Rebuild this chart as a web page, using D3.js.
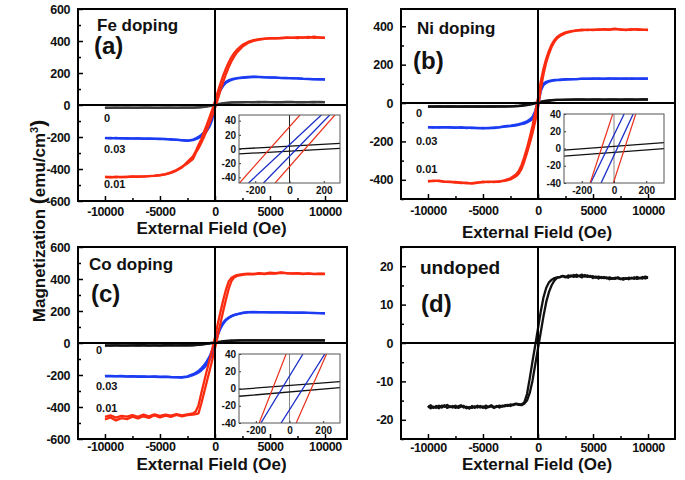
<!DOCTYPE html>
<html>
<head>
<meta charset="utf-8">
<script src="https://cdn.jsdelivr.net/npm/d3@7"></script>
<style>
  body { margin: 0; background: #fff; }
  svg text { font-family: "Liberation Sans", Arial, sans-serif; font-weight: bold; fill: #111; }
</style>
</head>
<body>
<svg id="chart" width="685" height="480"></svg>
<script>
// field grid (Oe) shared by panels a-c
const fieldH = [-10000,-9500,-9000,-8500,-8000,-7500,-7000,-6500,-6000,-5500,-5000,-4500,-4000,-3500,-3000,-2500,
  -2000,-1750,-1500,-1250,-1000,-750,-500,-250,0,250,500,750,1000,1250,1500,1750,
  2000,2500,3000,3500,4000,4500,5000,5500,6000,6500,7000,7500,8000,8500,9000,9500,10000];

// (a) Fe doping
const feRedDown = [-450,-452,-448,-451,-449,-447,-449,-446,-445,-443,-439,-434,-424,-410,-390,-355,
  -320,-290,-250,-215,-168,-124,-77,-29,23,81,135,185,229,267,299,325,
  346,376,394,405,411,415,418,416,420,422,419,424,421,426,420,423,421];
const feRedUp = [-449,-450,-452,-449,-450,-448,-447,-448,-444,-442,-438,-432,-421,-406,-386,-365,
  -338,-300,-271,-238,-200,-159,-115,-68,-20,35,92,145,194,237,274,304,
  329,365,388,401,409,413,416,418,417,420,421,418,423,420,427,421,419];
const feBlueDown = [-205,-208,-206,-209,-207,-210,-208,-211,-209,-212,-210,-213,-214,-216,-219,-222,
  -216,-209,-199,-187,-171,-150,-120,-66,14,72,106,129,145,155,161,165,
  168,172,175,177,176,174,173,171,170,168,168,166,164,163,162,161,160];
const feBlueUp = [-207,-206,-209,-207,-210,-208,-209,-210,-212,-211,-213,-212,-216,-218,-221,-224,
  -220,-214,-207,-197,-183,-164,-136,-92,-14,50,93,120,139,149,157,161,
  166,170,173,175,174,173,171,172,168,169,166,167,163,162,161,162,159];
const feBlackDown = [-17,-18,-17,-16,-17,-18,-17,-17,-16,-17,-18,-17,-17,-16,-17,-17,
  -16,-15,-14,-12,-10,-7,-4,-1,2,5,8,11,13,15,16,17,
  17,18,18,17,19,18,18,17,18,19,18,18,17,18,19,18,18];
const feBlackUp = [-18,-17,-17,-18,-16,-17,-18,-16,-17,-18,-17,-16,-17,-18,-17,-16,
  -17,-16,-15,-14,-12,-10,-7,-4,-2,2,5,8,11,13,15,16,
  17,17,18,18,17,19,18,18,17,18,19,17,18,18,17,19,18];

// (b) Ni doping
const niRedDown = [-406,-407,-404,-409,-412,-411,-417,-415,-420,-416,-410,-412,-409,-410,-402,-392,
  -372,-354,-324,-282,-234,-178,-120,-48,25,112,180,232,273,306,329,345,
  355,368,375,379,382,380,383,381,385,384,388,382,383,382,385,381,382];
const niRedUp = [-409,-404,-407,-411,-409,-414,-414,-419,-417,-413,-413,-409,-412,-408,-406,-398,
  -382,-368,-344,-306,-260,-210,-158,-95,-25,72,150,212,257,294,320,338,
  349,364,372,377,379,383,380,384,383,381,385,384,380,385,382,383,380];
const niBlueDown = [-125,-128,-126,-127,-125,-129,-126,-130,-128,-131,-130,-131,-128,-125,-121,-118,
  -113,-110,-106,-101,-95,-86,-72,-42,20,80,102,111,116,118,120,121,
  122,124,125,125,127,126,128,126,127,128,126,127,128,126,127,128,127];
const niBlueUp = [-127,-126,-128,-126,-128,-127,-129,-128,-130,-129,-132,-129,-130,-127,-123,-120,
  -117,-114,-110,-107,-101,-94,-84,-68,-20,62,94,105,112,116,118,119,
  120,122,123,125,126,127,126,128,126,127,128,127,126,128,127,126,127];
const niBlackDown = [-18,-19,-18,-18,-17,-19,-18,-18,-19,-18,-17,-18,-18,-17,-17,-17,
  -15,-14,-12,-10,-8,-5,-2,1,4,7,10,12,14,15,16,17,
  17,18,18,19,18,18,19,18,18,19,18,18,19,18,18,19,19];
const niBlackUp = [-19,-18,-18,-19,-18,-18,-19,-17,-18,-18,-19,-18,-17,-18,-18,-17,
  -17,-16,-15,-13,-11,-8,-5,-2,0,4,7,10,12,14,15,16,
  16,17,18,18,19,18,18,19,18,18,19,18,18,19,18,19,18];

// (c) Co doping
const coRedDown = [-462,-452,-466,-455,-460,-450,-461,-448,-458,-446,-455,-447,-454,-445,-452,-446,
  -440,-428,-390,-315,-245,-175,-108,-38,35,117,196,268,334,385,408,418,
  424,430,434,432,437,434,439,437,442,436,435,437,433,435,432,434,433];
const coRedUp = [-478,-465,-484,-470,-476,-461,-472,-458,-468,-452,-465,-454,-462,-450,-458,-451,
  -448,-445,-440,-380,-312,-244,-176,-108,-35,43,123,200,272,340,388,410,
  419,426,430,429,433,431,435,434,438,437,433,435,431,433,430,432,431];
const coBlueDown = [-206,-205,-207,-206,-208,-207,-209,-208,-210,-209,-211,-210,-212,-213,-214,-208,
  -195,-186,-175,-158,-140,-115,-85,-45,12,64,102,128,148,160,170,176,
  181,189,193,194,193,193,192,192,191,191,190,190,189,188,188,187,186];
const coBlueUp = [-208,-207,-209,-208,-210,-209,-211,-210,-212,-211,-213,-212,-214,-215,-216,-212,
  -201,-194,-185,-172,-156,-135,-107,-71,-12,46,90,120,142,156,166,174,
  179,187,191,192,193,192,192,191,191,190,190,189,189,188,187,187,186];
const coBlackDown = [-15,-16,-15,-15,-16,-15,-14,-15,-16,-15,-15,-14,-15,-15,-14,-14,
  -13,-12,-10,-8,-6,-4,-1,2,4,7,9,11,13,14,15,15,
  16,16,17,16,17,16,17,17,16,17,16,17,17,16,17,16,17];
const coBlackUp = [-16,-15,-15,-16,-15,-15,-16,-14,-15,-15,-16,-15,-14,-15,-15,-14,
  -14,-13,-12,-10,-8,-6,-4,-1,-3,2,5,8,10,12,14,15,
  15,16,16,17,16,17,16,16,17,16,17,16,16,17,16,17,16];

// (d) undoped, finer field grid
const fieldD = [-10000,-9750,-9500,-9250,-9000,-8750,-8500,-8250,-8000,-7750,-7500,-7250,-7000,-6750,-6500,-6250,
  -6000,-5750,-5500,-5250,-5000,-4750,-4500,-4250,-4000,-3750,-3500,-3250,-3000,-2750,-2500,-2250,-2000,-1750,
  -1500,-1250,-1000,-750,-500,-250,0,250,500,750,1000,1250,1500,1750,
  2000,2250,2500,2750,3000,3250,3500,3750,4000,4250,4500,4750,5000,5250,5500,5750,6000,6250,
  6500,6750,7000,7250,7500,7750,8000,8250,8500,8750,9000,9250,9500,9750,10000];
const undopedDown = [-16.8,-16.2,-16.9,-16.4,-17.0,-16.3,-16.6,-16.1,-16.7,-16.4,-16.9,-16.5,-16.2,-16.8,-16.6,-17.1,
  -16.4,-16.9,-16.3,-16.8,-16.5,-17.0,-16.6,-16.2,-16.7,-16.4,-16.8,-16.3,-16.5,-16.1,-16.4,-16.0,-15.8,-15.9,
  -16.0,-15.5,-13.3,-9.2,-4.8,-0.6,3.8,8.2,11.9,14.4,15.8,16.5,16.9,17.1,
  17.2,17.4,17.1,17.6,17.3,17.7,17.2,17.5,17.8,17.3,17.6,17.2,17.4,17.0,17.3,16.9,17.2,16.8,
  17.1,16.7,17.0,16.8,16.6,16.9,16.7,17.0,16.8,17.1,16.7,16.9,17.2,16.8,17.0];
const undopedUp = [-16.4,-17.0,-16.6,-16.9,-16.3,-16.8,-16.2,-16.9,-16.5,-16.8,-16.3,-16.9,-16.6,-16.4,-17.0,-16.7,
  -16.9,-16.5,-16.8,-16.4,-16.9,-16.3,-16.7,-16.5,-16.9,-16.6,-16.3,-16.6,-16.2,-16.4,-16.0,-16.2,-15.9,-16.1,
  -16.2,-15.8,-15.0,-13.0,-9.8,-5.6,-1.4,2.8,7.0,10.7,13.3,15.1,16.3,17.0,
  17.1,17.5,17.3,17.0,17.6,17.2,17.8,17.4,17.1,17.7,17.2,17.5,16.9,17.3,16.8,17.2,16.9,17.1,
  16.6,16.9,16.7,17.1,16.8,16.5,16.9,16.6,17.0,16.7,17.2,16.9,16.8,17.3,17.1];

// low-field insets: straight branches [H1, M1, H2, M2]
const feInsetRed = [[-292,-48,61,48],[-84,-48,265,48]];
const feInsetBlue = [[-239,-48,186,48],[-152,-48,235,48]];
const feInsetBlack = [[-300,0,300,8],[-300,-7,300,1]];
const niInsetRed = [[-148,-40,-8,40],[-4,-40,135,40]];
const niInsetBlue = [[-145,-40,63,40],[-80,-40,119,40]];
const niInsetBlack = [[-320,-2,320,7],[-320,-9,320,0]];
const coInsetRed = [[-180,-40,-20,40],[40,-40,220,40]];
const coInsetBlue = [[-170,-40,80,40],[-50,-40,210,40]];
const coInsetBlack = [[-300,-1,300,8],[-300,-9,300,1]];

// tick labels
const fieldTicks = [-10000,-5000,0,5000,10000];
const fieldMinor = [-12500,-7500,-2500,2500,7500];
const magTicksFeCo = [-600,-400,-200,0,200,400,600];
const magTicksNi = [-400,-200,0,200,400];
const magTicksUndoped = [-20,-10,0,10,20];
const insetMagTicks = [-40,-20,0,20,40];
const insetFieldTicks = [-200,0,200];
const dopingLabels = ["0", "0.03", "0.01"];

const RED = "#fb2b10", BLUE = "#1c3cf4", GRAY = "#3c3c3c", BLACK = "#111";
const IRED = "#e8301c", IBLUE = "#1a2dc8";
const plain = d => String(d);   // hyphen minus, no thousands comma

const svg = d3.select("#chart");

const panels = [
  { left: 78, right: 347, top: 9, bottom: 201, xDom: [-12450, 12000], yDom: [-600, 600],
    yTicks: magTicksFeCo, yMinor: d3.range(-500, 600, 200), field: fieldH, xPad: 6,
    series: [[feBlackDown, GRAY], [feBlackUp, GRAY], [feBlueDown, BLUE], [feBlueUp, BLUE], [feRedDown, RED], [feRedUp, RED]],
    title: "Fe doping", titlePos: [97, 31], tag: "(a)", tagPos: [94, 54], labelPos: [[104, 122], [104, 153], [104, 188]],
    xlabelY: 234,
    inset: { left: 239, right: 340, top: 115, bottom: 183, xDom: [-295, 295], yDom: [-48, 48],
      red: feInsetRed, blue: feInsetBlue, black: feInsetBlack, zero: "#222" } },
  { left: 401, right: 675, top: 9, bottom: 199, xDom: [-12450, 12450], yDom: [-500, 490],
    yTicks: magTicksNi, yMinor: d3.range(-500, 500, 100).filter(v => v % 200 !== 0), field: fieldH, xPad: 7,
    series: [[niBlackDown, BLACK], [niBlackUp, BLACK], [niBlueDown, BLUE], [niBlueUp, BLUE], [niRedDown, RED], [niRedUp, RED]],
    title: "Ni doping", titlePos: [417, 34], tag: "(b)", tagPos: [413, 69], labelPos: [[416, 117], [416, 145], [416, 173]],
    xlabelY: 238,
    inset: { left: 564, right: 664, top: 114, bottom: 183, xDom: [-310, 310], yDom: [-40, 40],
      red: niInsetRed, blue: niInsetBlue, black: niInsetBlack, zero: "#888" } },
  { left: 78, right: 347, top: 247, bottom: 439, xDom: [-12450, 12000], yDom: [-600, 600],
    yTicks: magTicksFeCo, yMinor: d3.range(-500, 600, 200), field: fieldH, xPad: 3.5,
    series: [[coBlackDown, BLACK], [coBlackUp, BLACK], [coBlueDown, BLUE], [coBlueUp, BLUE], [coRedDown, RED], [coRedUp, RED]],
    title: "Co doping", titlePos: [89, 270], tag: "(c)", tagPos: [91, 302], labelPos: [[96, 354], [96, 390], [96, 412]],
    xlabelY: 470,
    inset: { left: 239, right: 340, top: 354, bottom: 423, xDom: [-300, 300], yDom: [-40, 40],
      red: coInsetRed, blue: coInsetBlue, black: coInsetBlack, zero: "#888" } },
  { left: 401, right: 675, top: 247, bottom: 439, xDom: [-12450, 12450], yDom: [-25, 25],
    yTicks: magTicksUndoped, yMinor: d3.range(-25, 26, 10), field: fieldD, xPad: 4,
    series: [[undopedDown, BLACK], [undopedUp, BLACK]],
    title: "undoped", titlePos: [420, 274], titleSize: 19, tag: "(d)", tagPos: [421, 312], labelPos: [],
    xlabelY: 470, inset: null }
];

function drawPanel(p) {
  const x = d3.scaleLinear().domain(p.xDom).range([p.left, p.right]);
  const y = d3.scaleLinear().domain(p.yDom).range([p.bottom, p.top]);
  const g = svg.append("g");

  const clipId = "clip" + p.left + "_" + p.top;
  g.append("clipPath").attr("id", clipId).append("rect")
    .attr("x", p.left).attr("y", p.top).attr("width", p.right - p.left).attr("height", p.bottom - p.top);

  const line = d3.line().x(d => x(d[0])).y(d => y(d[1]));
  const curves = g.append("g").attr("clip-path", `url(#${clipId})`);
  p.series.forEach(([vals, color]) => {
    curves.append("path")
      .datum(d3.zip(p.field, vals))
      .attr("d", line)
      .attr("fill", "none")
      .attr("stroke", color)
      .attr("stroke-width", 2.3)
      .attr("stroke-linejoin", "round");
  });

  // zero lines
  g.append("line").attr("x1", x(0)).attr("x2", x(0)).attr("y1", p.top).attr("y2", p.bottom)
    .attr("stroke", "#000").attr("stroke-width", 2);
  g.append("line").attr("x1", p.left).attr("x2", p.right).attr("y1", y(0)).attr("y2", y(0))
    .attr("stroke", "#000").attr("stroke-width", 2);

  // axes
  const xa = g.append("g").attr("transform", `translate(0,${p.bottom})`)
    .call(d3.axisBottom(x).tickValues(fieldTicks).tickFormat(plain).tickSizeInner(-5).tickSizeOuter(0).tickPadding(p.xPad));
  const xm = g.append("g").attr("transform", `translate(0,${p.bottom})`)
    .call(d3.axisBottom(x).tickValues(fieldMinor.filter(v => v > p.xDom[0])).tickSize(-3).tickFormat(""));
  const ya = g.append("g").attr("transform", `translate(${p.left},0)`)
    .call(d3.axisLeft(y).tickValues(p.yTicks).tickFormat(plain).tickSizeInner(-5).tickSizeOuter(0).tickPadding(8));
  const ym = g.append("g").attr("transform", `translate(${p.left},0)`)
    .call(d3.axisLeft(y).tickValues(p.yMinor).tickSize(-3).tickFormat(""));
  [xa, xm, ya, ym].forEach(a => {
    a.select(".domain").remove();
    a.selectAll("line").attr("stroke", "#000").attr("stroke-width", 1.5);
    a.selectAll("text").attr("font-size", 12.5).attr("letter-spacing", -0.4)
      .style("font-family", '"Liberation Sans", Arial, sans-serif').style("font-weight", "bold").attr("fill", "#111");
  });

  g.append("rect").attr("x", p.left).attr("y", p.top)
    .attr("width", p.right - p.left).attr("height", p.bottom - p.top)
    .attr("fill", "none").attr("stroke", "#000").attr("stroke-width", 2);

  if (p.inset) drawInset(g, p.inset);

  g.append("text").attr("x", p.titlePos[0]).attr("y", p.titlePos[1])
    .attr("font-size", p.titleSize || 17).text(p.title);
  g.append("text").attr("x", p.tagPos[0]).attr("y", p.tagPos[1])
    .attr("font-size", 24).text(p.tag);
  p.labelPos.forEach((pos, i) => {
    g.append("text").attr("x", pos[0]).attr("y", pos[1]).attr("font-size", 11).text(dopingLabels[i]);
  });

  g.append("text").attr("x", (p.left + p.right) / 2 - 1).attr("y", p.xlabelY)
    .attr("text-anchor", "middle").attr("font-size", 17).text("External Field (Oe)");
}

function drawInset(g, ins) {
  const x = d3.scaleLinear().domain(ins.xDom).range([ins.left, ins.right]);
  const y = d3.scaleLinear().domain(ins.yDom).range([ins.bottom, ins.top]);
  g.append("rect").attr("x", ins.left).attr("y", ins.top)
    .attr("width", ins.right - ins.left).attr("height", ins.bottom - ins.top).attr("fill", "#fff");

  const clipId = "iclip" + ins.left + "_" + ins.top;
  g.append("clipPath").attr("id", clipId).append("rect")
    .attr("x", ins.left).attr("y", ins.top).attr("width", ins.right - ins.left).attr("height", ins.bottom - ins.top);
  const c = g.append("g").attr("clip-path", `url(#${clipId})`);

  c.append("line").attr("x1", x(0)).attr("x2", x(0)).attr("y1", ins.top).attr("y2", ins.bottom)
    .attr("stroke", ins.zero).attr("stroke-width", 1);

  const seg = (list, color, w) => {
    c.selectAll(null).data(list).enter().append("line")
      .attr("x1", d => x(d[0])).attr("y1", d => y(d[1]))
      .attr("x2", d => x(d[2])).attr("y2", d => y(d[3]))
      .attr("stroke", color).attr("stroke-width", w);
  };
  seg(ins.black, "#111", 1.3);
  seg(ins.blue, IBLUE, 1.3);
  seg(ins.red, IRED, 1.2);

  const xa = g.append("g").attr("transform", `translate(0,${ins.bottom})`)
    .call(d3.axisBottom(x).tickValues(insetFieldTicks).tickFormat(plain).tickSizeInner(-2).tickSizeOuter(0).tickPadding(4));
  const ya = g.append("g").attr("transform", `translate(${ins.left},0)`)
    .call(d3.axisLeft(y).tickValues(insetMagTicks).tickFormat(plain).tickSizeInner(-2).tickSizeOuter(0).tickPadding(3));
  [xa, ya].forEach(a => {
    a.select(".domain").remove();
    a.selectAll("line").attr("stroke", "#333");
    a.selectAll("text").attr("font-size", 10)
      .style("font-family", '"Liberation Sans", Arial, sans-serif').style("font-weight", "bold").attr("fill", "#111");
  });

  g.append("rect").attr("x", ins.left).attr("y", ins.top)
    .attr("width", ins.right - ins.left).attr("height", ins.bottom - ins.top)
    .attr("fill", "none").attr("stroke", "#555").attr("stroke-width", 1);
}

panels.forEach(drawPanel);

// shared y label
const yl = svg.append("text").attr("transform", "translate(45,221) rotate(-90)")
  .attr("text-anchor", "middle").attr("font-size", 17);
yl.append("tspan").text("Magnetization ");
yl.append("tspan").attr("font-size", 21).text("(");
yl.append("tspan").text("emu/cm");
yl.append("tspan").attr("font-size", 11).attr("dy", -7).text("3");
yl.append("tspan").attr("font-size", 21).attr("dy", 7).text(")");
</script>
</body>
</html>
